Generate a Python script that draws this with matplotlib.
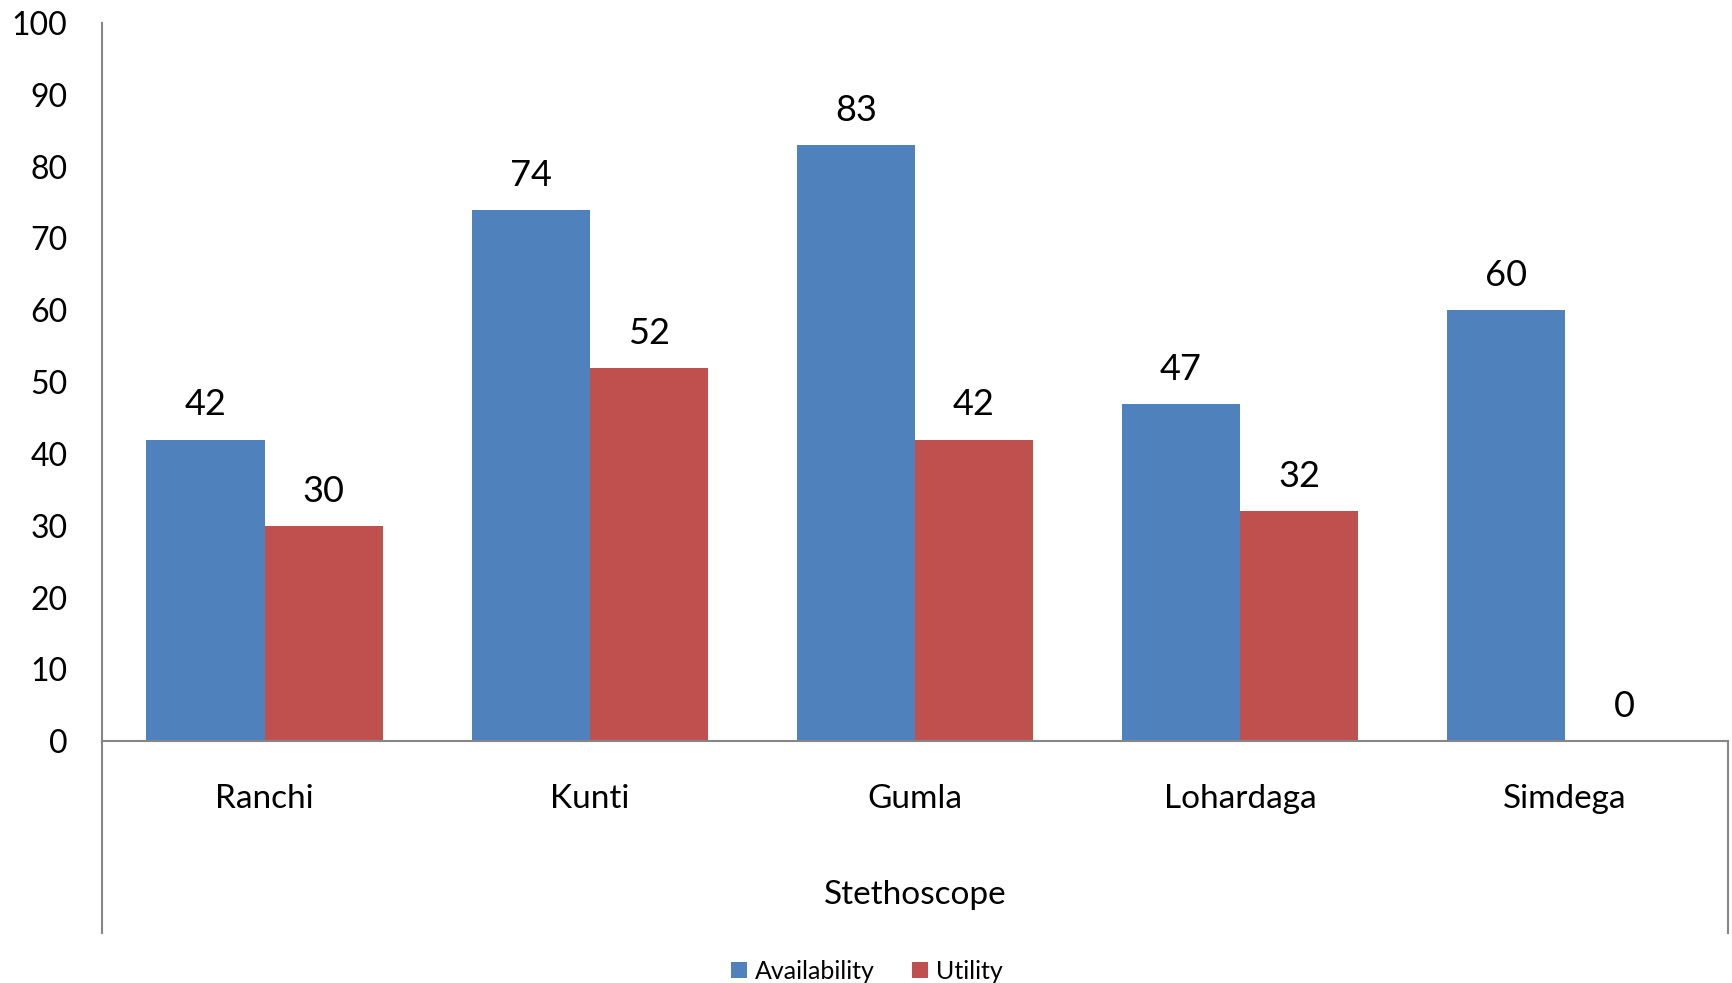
import matplotlib.pyplot as plt
import numpy as np

districts = ['Ranchi', 'Kunti', 'Gumla', 'Lohardaga', 'Simdega']
availability = [42, 74, 83, 47, 60]
utility = [30, 52, 42, 32, 0]
group_label = 'Stethoscope'

plt.rcParams['font.family'] = ['Lato', 'DejaVu Sans']

blue = '#4F81BD'
red = '#C0504D'
grey = '#868686'

fig = plt.figure(figsize=(17.33, 9.83), dpi=100)
ax = fig.add_axes([0.0589, 0.246, 0.938, 0.7306])

x = np.arange(len(districts))
w = 1 / 2.75
b1 = ax.bar(x - w / 2, availability, w, color=blue, label='Availability')
b2 = ax.bar(x + w / 2, utility, w, color=red, label='Utility')

for bars, vals in [(b1, availability), (b2, utility)]:
    for r, v in zip(bars, vals):
        ax.annotate(str(v), (r.get_x() + r.get_width() / 2, v),
                    xytext=(0, 13), textcoords='offset points',
                    ha='center', va='bottom', fontsize=26)

ax.set_xlim(-0.5, len(districts) - 0.5)
ax.set_ylim(0, 100)
ax.set_yticks(range(0, 101, 10))
ax.tick_params(axis='y', length=0, pad=25, labelsize=23)
ax.set_xticks([])

for s in ['top', 'right']:
    ax.spines[s].set_visible(False)
for s in ['left', 'bottom']:
    ax.spines[s].set_color(grey)
    ax.spines[s].set_linewidth(1.5)

tr = ax.get_xaxis_transform()
for i, d in enumerate(districts):
    ax.text(i, -0.081, d, transform=tr, ha='center', va='center', fontsize=24)
ax.text((len(districts) - 1) / 2, -0.214, group_label, transform=tr,
        ha='center', va='center', fontsize=24)

# lower category frame lines
for xe in [-0.5, len(districts) - 0.5]:
    ax.plot([xe, xe], [0, -0.267], transform=tr, color=grey, lw=1.5, clip_on=False)

fig.legend(handles=[b1, b2], loc='center', bbox_to_anchor=(0.5, 0.012), ncol=2,
           frameon=False, fontsize=18, handlelength=0.65, handleheight=0.65,
           handletextpad=0.3, columnspacing=1.5)

fig.savefig('out.png', dpi=100)
